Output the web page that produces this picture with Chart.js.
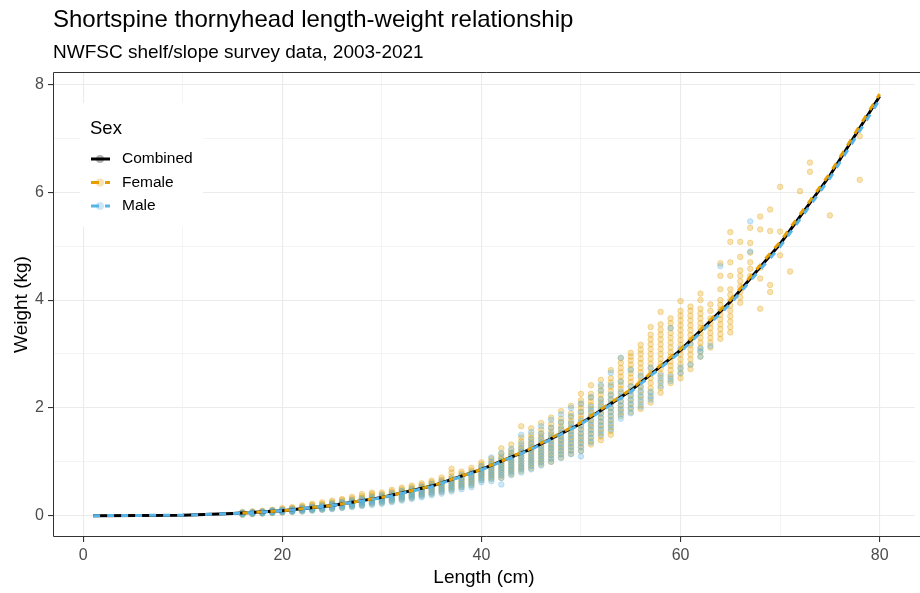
<!DOCTYPE html>
<html><head><meta charset="utf-8">
<script src="https://cdn.jsdelivr.net/npm/chart.js@4.4.1/dist/chart.umd.min.js"></script>
<style>html,body{margin:0;padding:0;background:#fff}canvas{display:block}</style>
</head><body>
<canvas id="c" width="920" height="593"></canvas>
<script>
const FONT = "'Liberation Sans', Arial, sans-serif";
const titleText = 'Shortspine thornyhead length-weight relationship';
const subtitleText = 'NWFSC shelf/slope survey data, 2003-2021';
const xTitle = 'Length (cm)';
const yTitle = 'Weight (kg)';
const legendTitle = 'Sex';
const seriesNames = ['Combined', 'Female', 'Male'];

const xTicks = [0, 10, 20, 30, 40, 50, 60, 70, 80];
const yTicks = [0, 1, 2, 3, 4, 5, 6, 7, 8];

// fitted curves
const combinedLen = [1, 10, 15, 20, 25, 30, 35, 40, 45, 50, 55, 60, 65, 70, 75, 80];
const combinedWt  = [0.00, 0.01, 0.04, 0.09, 0.19, 0.34, 0.55, 0.86, 1.24, 1.71, 2.32, 3.07, 3.97, 5.04, 6.31, 7.78];
const femaleLen   = [16, 20, 25, 30, 35, 40, 45, 50, 55, 60, 65, 70, 75, 80];
const femaleWt    = [0.05, 0.09, 0.19, 0.34, 0.55, 0.86, 1.25, 1.73, 2.34, 3.09, 4.00, 5.08, 6.35, 7.82];
const maleLen     = [1, 10, 15, 20, 25, 30, 35, 40, 45, 50, 55, 60, 65, 70, 75, 80];
const maleWt      = [0.00, 0.01, 0.04, 0.09, 0.19, 0.33, 0.54, 0.85, 1.23, 1.70, 2.30, 3.04, 3.93, 4.99, 6.26, 7.72];

// observed fish: [length, weight, weight, ...]
const femaleObs = [
 [16,0.02,0.03,0.04,0.04,0.05,0.06,0.07],
 [17,0.03,0.04,0.05,0.05,0.06,0.07,0.08],
 [18,0.04,0.05,0.06,0.06,0.07,0.08,0.09],
 [19,0.05,0.06,0.07,0.08,0.08,0.09,0.10,0.11],
 [20,0.06,0.07,0.08,0.09,0.09,0.10,0.11,0.12,0.14],
 [21,0.07,0.08,0.09,0.10,0.11,0.12,0.13,0.14,0.16],
 [22,0.08,0.10,0.11,0.12,0.13,0.14,0.15,0.17,0.19],
 [23,0.10,0.11,0.12,0.14,0.15,0.16,0.18,0.20,0.22],
 [24,0.11,0.13,0.14,0.16,0.17,0.18,0.20,0.22,0.25],
 [25,0.13,0.15,0.16,0.18,0.19,0.21,0.23,0.25,0.28],
 [26,0.15,0.17,0.19,0.20,0.22,0.24,0.26,0.29,0.31],
 [27,0.17,0.19,0.21,0.23,0.25,0.27,0.29,0.32,0.35],
 [28,0.19,0.22,0.24,0.26,0.28,0.30,0.33,0.36,0.40],
 [29,0.22,0.24,0.27,0.29,0.31,0.34,0.37,0.40,0.43],
 [30,0.24,0.27,0.29,0.31,0.33,0.35,0.37,0.40,0.43],
 [31,0.27,0.30,0.32,0.34,0.37,0.39,0.42,0.45,0.48],
 [32,0.30,0.33,0.35,0.38,0.40,0.43,0.46,0.49,0.52],
 [33,0.33,0.36,0.39,0.41,0.44,0.47,0.50,0.53,0.56],
 [34,0.37,0.40,0.42,0.45,0.48,0.51,0.54,0.57,0.60],
 [35,0.41,0.44,0.47,0.50,0.53,0.56,0.59,0.62,0.65],
 [36,0.44,0.48,0.51,0.54,0.57,0.60,0.64,0.67,0.71],
 [37,0.48,0.52,0.55,0.59,0.62,0.65,0.69,0.73,0.80,0.87],
 [38,0.53,0.56,0.60,0.63,0.67,0.70,0.74,0.78,0.82],
 [39,0.57,0.61,0.65,0.68,0.72,0.76,0.80,0.84,0.89],
 [40,0.66,0.70,0.74,0.77,0.80,0.84,0.87,0.91,0.95,0.99],
 [41,0.68,0.72,0.76,0.80,0.84,0.88,0.92,0.96,1.01,1.06],
 [42,0.70,0.75,0.80,0.85,0.89,0.93,0.97,1.01,1.05,1.10,1.15,1.25],
 [43,0.77,0.82,0.86,0.91,0.95,1.00,1.04,1.08,1.12,1.17,1.22,1.32],
 [44,0.83,0.88,0.92,0.97,1.02,1.07,1.11,1.16,1.20,1.25,1.30,1.38,1.45,1.66],
 [45,0.88,0.93,0.98,1.03,1.08,1.13,1.18,1.23,1.28,1.33,1.38,1.44,1.50,1.62],
 [46,0.95,1.00,1.05,1.10,1.15,1.20,1.26,1.31,1.36,1.42,1.47,1.53,1.60,1.72],
 [47,1.00,1.06,1.12,1.17,1.23,1.28,1.34,1.40,1.45,1.50,1.56,1.63,1.70,1.82],
 [48,1.08,1.14,1.20,1.25,1.31,1.37,1.42,1.48,1.54,1.60,1.66,1.73,1.80,1.94],
 [49,1.15,1.21,1.27,1.33,1.39,1.45,1.51,1.57,1.63,1.70,1.76,1.83,1.90,2.04],
 [50,1.20,1.27,1.34,1.40,1.47,1.53,1.60,1.66,1.73,1.80,1.86,1.93,2.00,2.07,2.14,2.26],
 [51,1.32,1.38,1.45,1.52,1.58,1.65,1.71,1.78,1.84,1.91,1.98,2.05,2.12,2.19,2.26,2.42],
 [52,1.40,1.47,1.54,1.61,1.68,1.75,1.82,1.89,1.96,2.03,2.10,2.17,2.25,2.32,2.40,2.52],
 [53,1.50,1.57,1.64,1.71,1.78,1.85,1.93,2.00,2.08,2.15,2.23,2.31,2.39,2.47,2.55,2.70],
 [54,1.85,1.92,1.98,2.05,2.12,2.20,2.27,2.35,2.42,2.50,2.58,2.66,2.74,2.83,2.92],
 [55,1.92,2.00,2.08,2.16,2.24,2.32,2.40,2.48,2.56,2.64,2.72,2.80,2.88,2.95,3.02],
 [56,1.98,2.06,2.15,2.23,2.32,2.40,2.49,2.57,2.66,2.74,2.83,2.91,3.00,3.08,3.17],
 [57,2.10,2.19,2.28,2.37,2.46,2.55,2.64,2.73,2.82,2.91,3.00,3.09,3.18,3.27,3.36,3.50],
 [58,2.28,2.37,2.46,2.55,2.64,2.73,2.82,2.91,3.00,3.09,3.18,3.27,3.36,3.45,3.55,3.78],
 [59,2.46,2.54,2.62,2.70,2.78,2.86,2.95,3.03,3.12,3.21,3.30,3.39,3.48,3.57,3.66],
 [60,2.55,2.64,2.72,2.81,2.90,2.99,3.08,3.17,3.26,3.35,3.44,3.53,3.62,3.71,3.80,3.98],
 [61,2.72,2.81,2.90,2.99,3.08,3.17,3.26,3.35,3.44,3.53,3.62,3.71,3.80,3.88],
 [62,2.95,3.04,3.12,3.21,3.30,3.39,3.48,3.57,3.66,3.75,3.84,4.00,4.12],
 [63,3.12,3.21,3.30,3.39,3.48,3.57,3.66,3.80,3.92],
 [64,3.28,3.37,3.46,3.55,3.64,3.73,3.82,3.91,4.00,4.20,4.45,4.68],
 [65,3.40,3.50,3.60,3.70,3.80,3.90,4.00,4.10,4.20,4.45,4.70,5.08,5.26],
 [66,3.95,4.05,4.15,4.25,4.35,4.45,4.55,4.80,5.08],
 [67,4.45,4.58,4.70,4.88,5.06,5.34],
 [68,3.84,4.40,4.60,5.31,5.55],
 [69,4.15,4.28,5.28,5.68],
 [70,4.83,5.27,6.10],
 [71,4.53],
 [72,6.02],
 [73,6.38,6.55],
 [75,5.57],
 [78,6.23,7.04]
];
const maleObs = [
 [16,0.02,0.03,0.04,0.05,0.06],
 [17,0.03,0.04,0.05,0.06,0.07],
 [18,0.04,0.05,0.06,0.07,0.08],
 [19,0.05,0.06,0.07,0.08,0.09,0.10],
 [20,0.06,0.07,0.08,0.09,0.10,0.11],
 [21,0.07,0.08,0.09,0.10,0.11,0.13],
 [22,0.08,0.09,0.11,0.12,0.13,0.15],
 [23,0.09,0.11,0.12,0.14,0.15,0.17],
 [24,0.11,0.12,0.14,0.16,0.17,0.19],
 [25,0.12,0.14,0.16,0.18,0.19,0.21,0.23],
 [26,0.14,0.16,0.18,0.20,0.22,0.24,0.26],
 [27,0.16,0.18,0.20,0.22,0.24,0.26,0.29],
 [28,0.18,0.20,0.22,0.25,0.27,0.29,0.32],
 [29,0.20,0.23,0.25,0.27,0.30,0.32,0.35],
 [30,0.22,0.25,0.27,0.30,0.32,0.35,0.38],
 [31,0.25,0.28,0.30,0.33,0.36,0.39,0.42],
 [32,0.28,0.31,0.34,0.37,0.40,0.43,0.46],
 [33,0.31,0.34,0.37,0.40,0.43,0.46,0.50],
 [34,0.34,0.37,0.40,0.44,0.47,0.50,0.54],
 [35,0.38,0.41,0.44,0.48,0.51,0.55,0.59],
 [36,0.41,0.45,0.48,0.52,0.56,0.60,0.64],
 [37,0.45,0.49,0.53,0.57,0.61,0.65,0.69],
 [38,0.49,0.53,0.57,0.61,0.66,0.70,0.75],
 [39,0.53,0.57,0.62,0.66,0.71,0.75,0.80],
 [40,0.62,0.66,0.70,0.74,0.78,0.82,0.86,0.92],
 [41,0.64,0.69,0.74,0.78,0.83,0.88,0.93,0.99,1.08],
 [42,0.58,0.70,0.75,0.80,0.85,0.90,0.95,1.00,1.06,1.16],
 [43,0.75,0.80,0.85,0.90,0.95,1.00,1.05,1.10,1.16,1.24],
 [44,0.80,0.86,0.91,0.97,1.02,1.08,1.13,1.19,1.25,1.34,1.50],
 [45,0.86,0.92,0.98,1.03,1.09,1.15,1.21,1.27,1.34,1.42,1.55],
 [46,0.93,0.99,1.05,1.11,1.17,1.23,1.29,1.36,1.43,1.52,1.66],
 [47,1.00,1.06,1.12,1.19,1.25,1.31,1.38,1.45,1.52,1.63,1.78],
 [48,1.07,1.14,1.20,1.27,1.33,1.40,1.47,1.54,1.62,1.74,1.88],
 [49,1.14,1.21,1.28,1.35,1.42,1.49,1.56,1.64,1.72,1.85,2.00],
 [50,1.10,1.20,1.28,1.36,1.44,1.52,1.60,1.68,1.76,1.92,2.08],
 [51,1.36,1.44,1.52,1.60,1.68,1.76,1.85,1.94,2.02,2.20],
 [52,1.50,1.58,1.66,1.74,1.82,1.90,1.98,2.06,2.15,2.32,2.43],
 [53,1.60,1.68,1.76,1.84,1.92,2.00,2.08,2.16,2.25,2.42,2.65],
 [54,1.80,1.88,1.96,2.04,2.12,2.21,2.30,2.48,2.93],
 [55,1.90,1.98,2.06,2.14,2.22,2.31,2.40,2.70],
 [56,2.02,2.11,2.20,2.29,2.38,2.60],
 [57,2.15,2.22,2.30,2.75],
 [58,2.40,2.50,2.60],
 [59,2.50,2.58,3.48],
 [60,2.65,2.75,3.10],
 [61,2.80,3.20],
 [62,2.95,3.05,3.10],
 [63,3.15],
 [64,4.63],
 [67,4.90,5.46]
];

const FEMALE = '#E69F00', MALE = '#56B4E9', COMB = '#000000';
const FEMALE_A = 'rgba(230,159,0,0.3)', MALE_A = 'rgba(86,180,233,0.3)';

function obsPoints(cols) {
  const pts = [];
  cols.forEach(c => { for (let i = 1; i < c.length; i++) pts.push({x: c[0], y: c[i]}); });
  return pts;
}
function linePoints(xs, ys) { return xs.map((x, i) => ({x, y: ys[i]})); }

const decor = {
  id: 'decor',
  afterDatasetsDraw(chart) {
    const {ctx, chartArea: a} = chart;
    ctx.save();
    ctx.strokeStyle = '#333333';
    ctx.lineWidth = 1;
    ctx.beginPath();
    ctx.moveTo(a.right + 5, a.top + 0.5);
    ctx.lineTo(a.left + 0.5, a.top + 0.5);
    ctx.lineTo(a.left + 0.5, a.bottom - 0.5);
    ctx.lineTo(a.right + 5, a.bottom - 0.5);
    ctx.stroke();
    ctx.fillStyle = '#ffffff';
    ctx.fillRect(80, 103, 123, 124);
    ctx.fillStyle = '#000';
    ctx.textBaseline = 'alphabetic';
    ctx.textAlign = 'left';
    ctx.font = '18.5px ' + FONT;
    ctx.fillText(legendTitle, 90, 134);
    const keys = [
      {name: seriesNames[0], col: COMB, pt: 'rgba(0,0,0,0.3)', dash: [], y: 159},
      {name: seriesNames[1], col: FEMALE, pt: FEMALE_A, dash: [8, 6], y: 182.5},
      {name: seriesNames[2], col: MALE, pt: MALE_A, dash: [8, 6], y: 206}
    ];
    keys.forEach(k => {
      ctx.strokeStyle = k.col;
      ctx.lineWidth = 3;
      ctx.setLineDash(k.dash);
      ctx.beginPath();
      ctx.moveTo(91, k.y); ctx.lineTo(110, k.y);
      ctx.stroke();
      ctx.setLineDash([]);
      ctx.fillStyle = k.pt;
      ctx.beginPath();
      ctx.arc(100, k.y, 4, 0, Math.PI * 2);
      ctx.fill();
      ctx.fillStyle = '#000';
      ctx.font = '15.5px ' + FONT;
      ctx.textBaseline = 'middle';
      ctx.fillText(k.name, 122, k.y);
    });
    ctx.restore();
  },
  afterDraw(chart) {
    const {ctx} = chart;
    ctx.save();
    ctx.fillStyle = '#000';
    ctx.textAlign = 'left';
    ctx.textBaseline = 'alphabetic';
    ctx.font = '24px ' + FONT;
    ctx.fillText(titleText, 53, 27);
    ctx.font = '19px ' + FONT;
    ctx.fillText(subtitleText, 53, 57.5);
    ctx.restore();
  }
};

const isMajorX = v => v % 20 === 0;
const isMajorY = v => v % 2 === 0;

new Chart(document.getElementById('c'), {
  type: 'scatter',
  data: {
    datasets: [
      {label: 'Male fit', type: 'line', order: 0, data: linePoints(maleLen, maleWt),
       borderColor: MALE, borderWidth: 3, borderDash: [7, 7], pointRadius: 0, fill: false, tension: 0, showLine: true},
      {label: 'Female fit', type: 'line', order: 1, data: linePoints(femaleLen, femaleWt),
       borderColor: FEMALE, borderWidth: 3, borderDash: [7, 7], pointRadius: 0, fill: false, tension: 0, showLine: true},
      {label: 'Combined fit', type: 'line', order: 2, data: linePoints(combinedLen, combinedWt),
       borderColor: COMB, borderWidth: 3, pointRadius: 0, fill: false, tension: 0, showLine: true},
      {label: 'Male', order: 3, data: obsPoints(maleObs), backgroundColor: MALE_A, borderColor: MALE_A,
       borderWidth: 1, pointRadius: 2.8},
      {label: 'Female', order: 4, data: obsPoints(femaleObs), backgroundColor: FEMALE_A, borderColor: FEMALE_A,
       borderWidth: 1, pointRadius: 2.8}
    ]
  },
  options: {
    responsive: false,
    devicePixelRatio: 1,
    animation: false,
    layout: {padding: {top: 72, left: 0, right: 0, bottom: 0}},
    plugins: {legend: {display: false}, tooltip: {enabled: false}, title: {display: false}},
    scales: {
      x: {
        type: 'linear', min: -3.03, max: 83.55,
        afterBuildTicks: s => { s.ticks = xTicks.map(v => ({value: v})); },
        afterFit: s => { s.height = 56; },
        ticks: {autoSkip: false, maxRotation: 0, callback: v => isMajorX(v) ? String(v) : '',
                color: '#4D4D4D', font: {family: FONT, size: 16}, padding: 4},
        grid: {color: '#EBEBEB', lineWidth: c => (c.tick && isMajorX(c.tick.value)) ? 1.1 : 0.55,
               tickLength: 5, tickWidth: 1.1,
               tickColor: c => (c.tick && isMajorX(c.tick.value)) ? '#333333' : 'rgba(0,0,0,0)'},
        border: {display: false},
        title: {display: true, text: xTitle, color: '#000', font: {family: FONT, size: 19}, padding: {top: 4, bottom: 4}}
      },
      y: {
        type: 'linear', min: -0.395, max: 8.23,
        afterBuildTicks: s => { s.ticks = yTicks.map(v => ({value: v})); },
        afterFit: s => { s.width = 53; },
        ticks: {autoSkip: false, callback: v => isMajorY(v) ? String(v) : '',
                color: '#4D4D4D', font: {family: FONT, size: 16}, padding: 4},
        grid: {color: '#EBEBEB', lineWidth: c => (c.tick && isMajorY(c.tick.value)) ? 1.1 : 0.55,
               tickLength: 5, tickWidth: 1.1,
               tickColor: c => (c.tick && isMajorY(c.tick.value)) ? '#333333' : 'rgba(0,0,0,0)'},
        border: {display: false},
        title: {display: true, text: yTitle, color: '#000', font: {family: FONT, size: 19}, padding: {top: 10.6, bottom: 0}}
      }
    }
  },
  plugins: [decor]
});
</script>
</body></html>
